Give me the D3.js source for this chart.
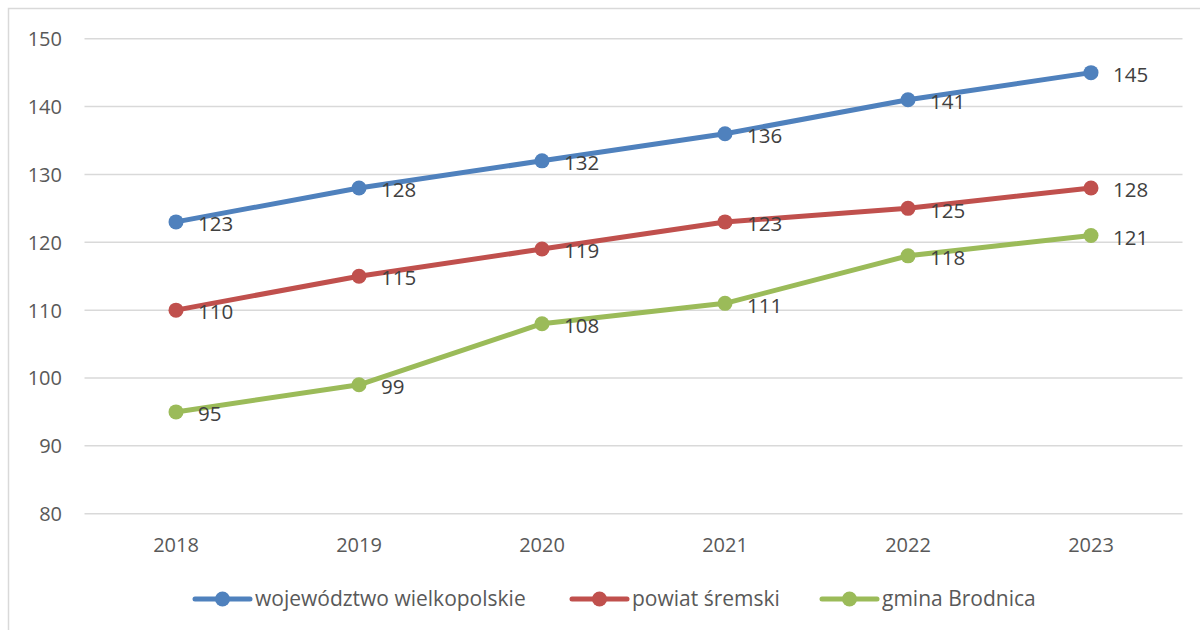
<!DOCTYPE html>
<html><head><meta charset="utf-8">
<script src="https://cdn.jsdelivr.net/npm/d3@7"></script>
<style>body{margin:0;background:#fff}svg{display:block}text{font-family:"Open Sans",sans-serif;fill:#595959}</style>
</head><body><svg id="c" width="1200" height="630"></svg>
<script>
const years = ["2018","2019","2020","2021","2022","2023"];
const seriesNames = ["województwo wielkopolskie","powiat śremski","gmina Brodnica"];
const wojewodztwo = [123,128,132,136,141,145];
const powiat = [110,115,119,123,125,128];
const gmina = [95,99,108,111,118,121];
const yTicks = [80,90,100,110,120,130,140,150];
const colors = ["#4F81BD","#C0504D","#9BBB59"];
const series = [wojewodztwo, powiat, gmina];

const svg = d3.select("#c");
svg.append("rect").attr("x",8.5).attr("y",8.5).attr("width",1200).attr("height",630)
  .attr("fill","none").attr("stroke","#D9D9D9").attr("stroke-width",1.5);

const x = d3.scaleBand().domain(years).range([84.5,1182.5]);
const y = d3.scaleLinear().domain([80,150]).range([513.7,38.7]);

const g = svg.append("g");
g.selectAll("line.grid").data(yTicks).join("line").attr("class","grid")
  .attr("x1",84.5).attr("x2",1182.5).attr("y1",d=>y(d)).attr("y2",d=>y(d))
  .attr("stroke","#D9D9D9").attr("stroke-width",1.5);

const yAxis = g.append("g").attr("transform","translate(62,0)")
  .call(d3.axisLeft(y).tickValues(yTicks).tickSize(0).tickPadding(0));
yAxis.select(".domain").remove();
yAxis.selectAll("text").attr("font-size",20).attr("font-family","Open Sans").attr("fill","#595959").attr("dy","0.35em");

const xAxis = g.append("g").attr("transform","translate(0,545)")
  .call(d3.axisBottom(x).tickSize(0).tickPadding(0));
xAxis.select(".domain").remove();
xAxis.selectAll("text").attr("font-size",20).attr("font-family","Open Sans").attr("fill","#595959").attr("dy","0.35em");

const line = d3.line().x((d,i)=>x(years[i])+x.bandwidth()/2).y(d=>y(d));
series.forEach((s,k)=>{
  g.append("path").datum(s).attr("d",line).attr("fill","none")
    .attr("stroke",colors[k]).attr("stroke-width",5).attr("stroke-linejoin","round");
  g.selectAll(null).data(s).join("circle")
    .attr("cx",(d,i)=>x(years[i])+x.bandwidth()/2).attr("cy",d=>y(d)).attr("r",7.5).attr("fill",colors[k]);
  g.selectAll(null).data(s).join("text")
    .attr("x",(d,i)=>x(years[i])+x.bandwidth()/2+22).attr("y",d=>y(d)+2).attr("dy","0.35em")
    .attr("font-size",20.5).style("fill","#404040").text(d=>d);
});

// legend
const legX = [195,572,822];
const leg = svg.append("g");
seriesNames.forEach((n,k)=>{
  const lx = legX[k], ly = 599;
  leg.append("line").attr("x1",lx).attr("x2",lx+55).attr("y1",ly).attr("y2",ly)
    .attr("stroke",colors[k]).attr("stroke-width",5).attr("stroke-linecap","round");
  leg.append("circle").attr("cx",lx+27.5).attr("cy",ly).attr("r",7.5).attr("fill",colors[k]);
  leg.append("text").attr("x",lx+60).attr("y",ly).attr("dy","0.35em").attr("font-size",21).text(n);
});
</script></body></html>
